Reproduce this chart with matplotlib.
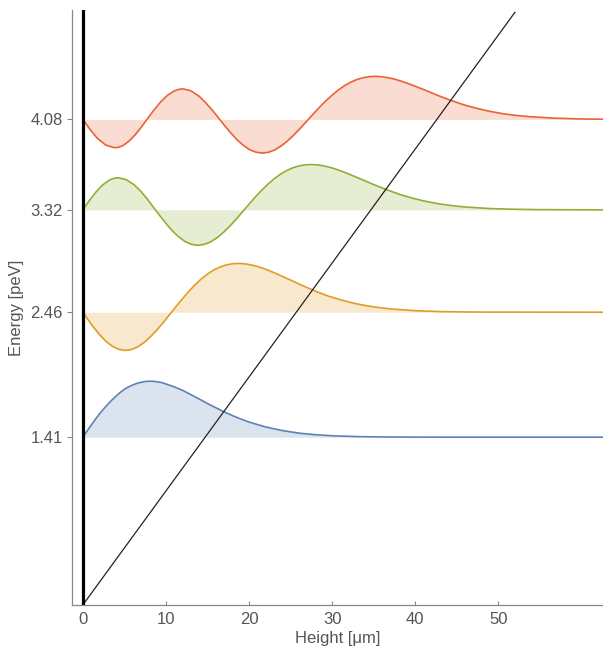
import matplotlib
matplotlib.use("Agg")
import matplotlib.pyplot as plt
import numpy as np

plt.rcParams['font.family'] = ['Liberation Sans', 'DejaVu Sans']

# energy levels (peV) and their tick labels
levels = [1.41, 2.46, 3.32, 4.08]
level_labels = ["1.41", "2.46", "3.32", "4.08"]
colors = ["#5E81B5", "#E19C24", "#8FB032", "#EB6235"]

# wavefunctions: height (um) and offset from the level (peV)
x_blue = [0, 0.5, 1, 1.5, 2, 2.5, 3, 3.5, 4, 4.5, 5, 5.5, 6, 6.5, 7, 7.5, 8, 8.5,
          9, 9.5, 10, 11, 12, 13, 14, 15, 16, 17, 18, 19, 20,
          22, 24, 26, 28, 30, 33, 36, 40, 45, 62.6]
y_blue = [0, 0.050, 0.100, 0.149, 0.195, 0.237, 0.275, 0.312, 0.345, 0.376, 0.402,
          0.423, 0.438, 0.452, 0.461, 0.468, 0.470, 0.470, 0.465, 0.459, 0.447,
          0.423, 0.394, 0.358, 0.321, 0.283, 0.248, 0.213, 0.182, 0.153, 0.127,
          0.086, 0.056, 0.034, 0.021, 0.012, 0.005, 0.002, 0.0005, 0, 0]

x_orange = [0, 0.54, 1.30, 2.06, 2.83, 3.59, 4.35, 5.11, 5.88, 6.64, 7.40, 8.16,
            8.93, 9.69, 10.67, 11.21, 11.98, 12.74, 13.50, 14.26, 15.03, 15.79,
            16.55, 17.31, 18.08, 18.84, 19.60, 20.36, 21.13, 21.89, 22.65, 23.41,
            24.94, 26.46, 27.99, 29.51, 31.04, 32.56, 34.09, 35.61, 37.14, 40.19,
            43.24, 46.29, 49.3, 62.6]
y_orange = [0, -0.054, -0.127, -0.192, -0.247, -0.288, -0.312, -0.321, -0.313,
            -0.290, -0.253, -0.205, -0.148, -0.086, 0, 0.047, 0.112, 0.174, 0.230,
            0.280, 0.322, 0.356, 0.381, 0.398, 0.408, 0.410, 0.406, 0.396, 0.382,
            0.364, 0.343, 0.320, 0.272, 0.223, 0.177, 0.136, 0.104, 0.076, 0.055,
            0.039, 0.027, 0.012, 0.005, 0.002, 0.001, 0]

x_green = [0, 0.83, 1.65, 2.42, 3.18, 3.73, 4.28, 5.26, 6.23, 7.00, 7.76, 8.25, 8.74,
           9.28, 10.04, 10.80, 11.57, 12.33, 13.09, 13.85, 14.62, 15.38, 16.14,
           16.90, 17.67, 18.43, 19.42, 19.96, 20.72, 21.48, 22.25, 23.01, 23.77,
           24.53, 25.30, 26.06, 26.82, 27.58, 28.35, 29.11, 29.87, 30.63, 31.40,
           32.16, 33.68, 35.21, 36.73, 38.26, 39.78, 41.31, 42.83, 44.36,
           45.88, 48.93, 51.98, 55.0, 58.1, 62.6]
y_green = [0, 0.082, 0.156, 0.211, 0.249, 0.265, 0.270, 0.253, 0.208, 0.155, 0.091,
           0.046, 0, -0.050, -0.117, -0.178, -0.229, -0.267, -0.290, -0.298, -0.290,
           -0.269, -0.235, -0.191, -0.138, -0.080, 0, 0.044, 0.105, 0.162, 0.214,
           0.260, 0.299, 0.330, 0.354, 0.370, 0.379, 0.381, 0.377, 0.368, 0.355,
           0.338, 0.318, 0.297, 0.252, 0.207, 0.165, 0.127, 0.096, 0.071, 0.051,
           0.036, 0.025, 0.011, 0.005, 0.002, 0.001, 0]

x_red = [0, 0.88, 1.75, 2.78, 3.81, 4.31, 4.80, 5.57, 6.33, 7.03, 7.72, 8.55, 9.38,
         10.15, 10.91, 11.46, 12.01, 12.99, 13.96, 14.72, 15.48, 15.98, 16.47,
         17.0, 17.77, 18.53, 19.30, 20.06, 20.83, 21.59, 22.35, 23.11, 23.87, 24.63,
         25.39, 26.15, 27.14, 27.68, 28.44, 29.2, 29.97, 30.73, 31.49, 32.25, 33.02,
         33.78, 34.54, 35.30, 36.07, 36.83, 37.59, 38.35, 39.12, 39.88, 41.40,
         42.93, 44.45, 45.98, 47.50, 49.03, 50.55, 52.08, 53.6, 56.65, 59.7, 62.6]
y_red = [0, -0.085, -0.159, -0.216, -0.238, -0.234, -0.221, -0.182, -0.127, -0.066,
         0, 0.078, 0.148, 0.200, 0.236, 0.251, 0.257, 0.241, 0.197, 0.146, 0.086,
         0.044, 0, -0.047, -0.111, -0.169, -0.217, -0.254, -0.275, -0.283, -0.276,
         -0.256, -0.223, -0.181, -0.131, -0.076, 0, 0.042, 0.099, 0.153, 0.202,
         0.246, 0.283, 0.313, 0.336, 0.351, 0.360, 0.362, 0.358, 0.349, 0.337,
         0.321, 0.302, 0.282, 0.240, 0.196, 0.156, 0.120, 0.091, 0.067, 0.048,
         0.034, 0.024, 0.011, 0.004, 0.002]

xs = [x_blue, x_orange, x_green, x_red]
ys = [y_blue, y_orange, y_green, y_red]

# gravitational potential line
pot_x = [0, 52.0]
pot_y = [0, 4.98]

gray = "#555555"
fig = plt.figure(figsize=(6.03, 6.53), dpi=100)
ax = fig.add_axes([0.1194, 0.0735, 0.8806, 0.9113])

for lev, col, x, y in zip(levels, colors, xs, ys):
    x = np.array(x)
    y = np.array(y) + lev
    ax.fill_between(x, lev, y, color=col, alpha=0.22, linewidth=0)
    ax.plot(x, y, color=col, lw=1.2)

ax.plot(pot_x, pot_y, color="#222222", lw=0.9)
ax.axvline(0, color="black", lw=2.3)

ax.set_xlim(-1.3, 62.6)
ax.set_ylim(0, 5.0)
ax.set_xticks([0, 10, 20, 30, 40, 50])
ax.set_yticks(levels)
ax.set_yticklabels(level_labels)
ax.tick_params(axis="x", direction="in", length=3, color="#888888",
               labelcolor=gray, labelsize=12, pad=5)
ax.tick_params(axis="y", direction="out", length=3.5, color="#888888",
               labelcolor=gray, labelsize=12, pad=3)
for s in ["top", "right"]:
    ax.spines[s].set_visible(False)
for s in ["left", "bottom"]:
    ax.spines[s].set_color("#888888")
    ax.spines[s].set_linewidth(0.9)

ax.set_xlabel("Height [μm]", color=gray, fontsize=12, labelpad=3)
ax.set_ylabel("Energy [peV]", color=gray, fontsize=12, labelpad=5)

fig.savefig("out.png", dpi=100)
